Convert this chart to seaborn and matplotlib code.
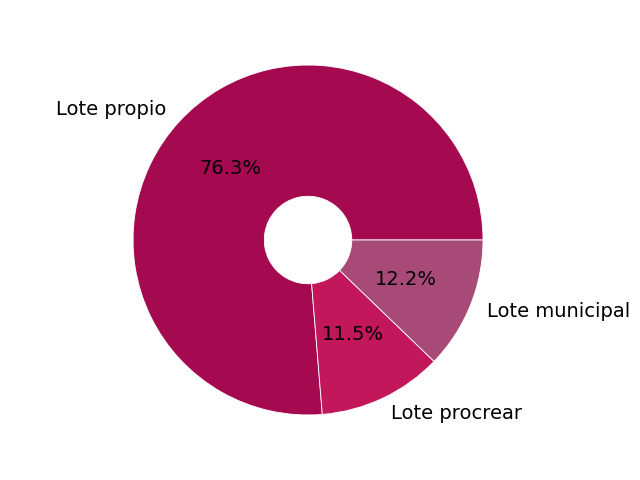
import matplotlib
matplotlib.use("Agg")
import matplotlib.pyplot as plt
import seaborn as sns

# ── DATA ──────────────────────────────────────────
labels = ['Lote propio', 'Lote procrear', 'Lote municipal']
shares = [76.3, 11.5, 12.2]
colors = ['#A50A50', '#C2185B', '#A84A78']

sns.set_style("white")

fig = plt.figure(figsize=(6.4, 4.8), dpi=100)
ax = fig.add_axes([0.1805, 0.099, 0.6016, 0.802])
ax.pie(
    shares,
    labels=labels,
    colors=colors,
    autopct='%1.1f%%',
    pctdistance=0.6,
    startangle=0,
    wedgeprops=dict(width=0.75, edgecolor='white', linewidth=0.6),
    textprops=dict(fontsize=14, color='black'),
)
ax.set_xlim(-1.1, 1.1)
ax.set_ylim(-1.1, 1.1)

plt.savefig('out.png', dpi=100)
